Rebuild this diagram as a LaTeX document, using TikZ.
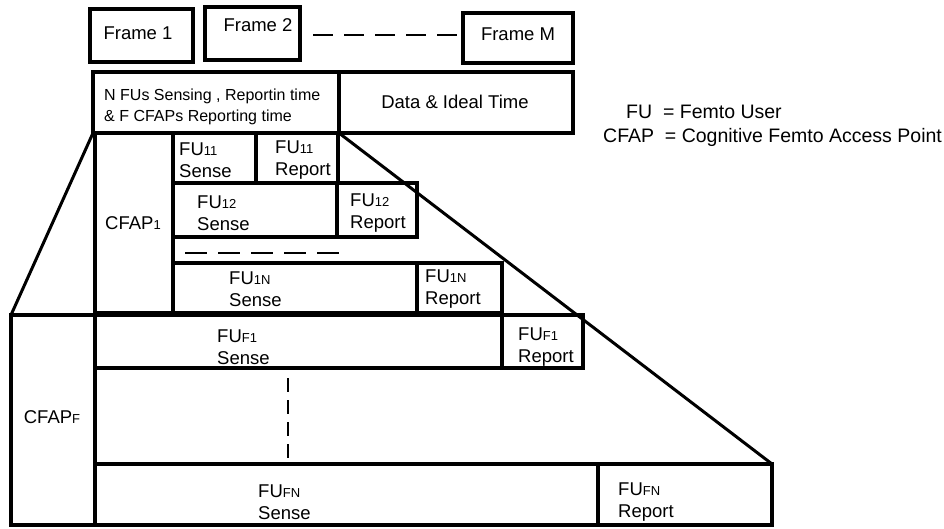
\documentclass[tikz,border=0pt]{standalone}
\usepackage{fontspec}
\setmainfont{Liberation Sans}
\usetikzlibrary{fit}
\newcommand\ssb[1]{{\fontsize{13}{13}\selectfont #1}}
\begin{document}
\begin{tikzpicture}[x=1pt,y=-1pt,
  framebox/.style={draw, line width=4.5pt, inner sep=0pt, outer sep=0pt},
  bigbox/.style={draw, line width=4pt, inner sep=0pt, outer sep=0pt},
  cell/.style={draw, line width=3.5pt, inner sep=0pt, outer sep=0pt},
  lbl/.style={inner sep=0pt, align=left, anchor=west, font=\fontsize{18.5}{22}\selectfont},
  ctext/.style={inner sep=0pt, anchor=center, font=\fontsize{18.5}{22}\selectfont},
  legend/.style={inner sep=0pt, anchor=base west, font=\fontsize{19.5}{22}\selectfont},
  zoomline/.style={line width=3pt},
  dashline/.style={line width=1.6pt, dash pattern=on 20pt off 11pt}
]
\useasboundingbox (0,0) rectangle (944,528);
\fill[white] (0,0) rectangle (944,528);

% frames
\node[framebox, fit={(90,9)(193,62)}] (f1) {};
\node[framebox, fit={(205,7)(300,60)}] (f2) {};
\node[framebox, fit={(463,13)(573,63)}] (fM) {};
\node[ctext] (tf1) at (138,33) {Frame 1};
\node[ctext] (tf2) at (258,25) {Frame 2};
\node[ctext] (tfM) at (518,34) {Frame M};
\draw[dashline] (313,35) -- (457,35);

% big frame structure
\node[bigbox, fit={(93,72)(339,133)}] (bigL) {};
\node[bigbox, fit={(339,72)(573,133)}] (bigR) {};
\node[inner sep=0pt, align=left, anchor=west, font=\fontsize{16}{21}\selectfont] (tsense) at (104,106.5)
  {N FUs Sensing , Reportin time\\\& F CFAPs Reporting time};
\node[ctext] (tdata) at (455,102) {Data \& Ideal Time};

% legend
\node[legend] (lg1) at (626,118) {FU\ \ = Femto User};
\node[legend] (lg2) at (603,142) {CFAP\ \ = Cognitive Femto Access Point};

% CFAP1 block
\node[cell, fit={(95,133)(173,313)}] (cfap1) {};
\node[ctext] (tcfap1) at (133,223) {CFAP\ssb{1}};
\node[cell, fit={(173,133)(256,183)}] (s11) {};
\node[cell, fit={(256,133)(338,183)}] (r11) {};
\node[cell, fit={(173,183)(337,237)}] (s12) {};
\node[cell, fit={(337,183)(417,237)}] (r12) {};
\node[cell, fit={(173,263)(417,313)}] (s1n) {};
\node[cell, fit={(417,263)(502,313)}] (r1n) {};
\draw[line width=1.6pt, dash pattern=on 22pt off 11pt] (185,253) -- (339,253);
\node[lbl] (ts11) at (179,160) {FU\ssb{11}\\Sense};
\node[lbl] (tr11) at (275,160) {FU\ssb{11}\\Report};
\node[lbl] (ts12) at (197,213) {FU\ssb{12}\\Sense};
\node[lbl] (tr12) at (350,213) {FU\ssb{12}\\Report};
\node[lbl] (ts1n) at (229,289) {FU\ssb{1N}\\Sense};
\node[lbl] (tr1n) at (425,289) {FU\ssb{1N}\\Report};

% CFAPF block
\node[cell, fit={(11,315)(95,525)}] (cfapF) {};
\node[ctext] (tcfapF) at (52,417) {CFAP\ssb{F}};
\node[cell, fit={(95,315)(502,368)}] (sf1) {};
\node[cell, fit={(502,315)(583,368)}] (rf1) {};
\node[cell, fit={(95,464)(598,525)}] (sfn) {};
\node[cell, fit={(598,464)(772,525)}] (rfn) {};
\draw[line width=1.6pt, dash pattern=on 14pt off 8pt] (288,378) -- (288,458);
\node[lbl] (tsf1) at (217,347) {FU\ssb{F1}\\Sense};
\node[lbl] (trf1) at (518,347) {FU\ssb{F1}\\Report};
\node[lbl] (tsfn) at (258,502) {FU\ssb{FN}\\Sense};
\node[lbl] (trfn) at (618,502) {FU\ssb{FN}\\Report};

% zoom lines
\draw[zoomline] (bigL.south west) -- (cfapF.north west);
\draw[zoomline] (bigL.south east) -- (rfn.north east);
\end{tikzpicture}
\end{document}
